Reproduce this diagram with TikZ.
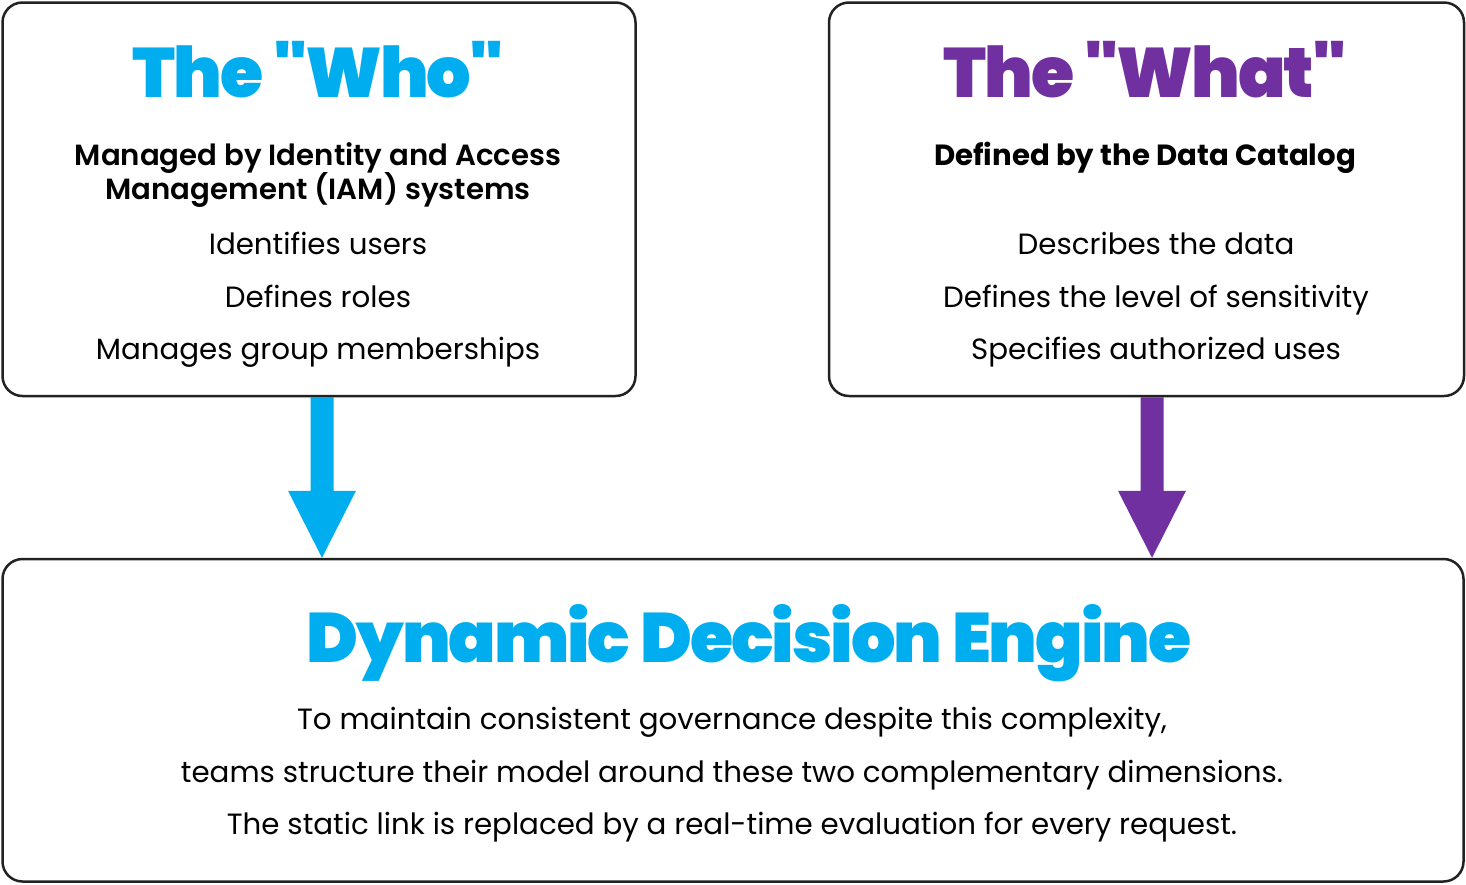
\documentclass[tikz,border=0pt]{standalone}
\usepackage{fontspec}
\setmainfont{Poppins}
\IfFontExistsTF{Poppins Black}{\newfontfamily\ttlfont{Poppins Black}[LetterSpace=-3]}{\newfontfamily\ttlfont{Poppins}[UprightFont=*-Bold,LetterSpace=-3]}
\IfFontExistsTF{Poppins SemiBold}{\newfontfamily\semifont{Poppins SemiBold}}{\newfontfamily\semifont{Poppins}[UprightFont=*-Bold]}
\usetikzlibrary{calc,backgrounds}
\definecolor{cyanc}{HTML}{00AEEF}
\definecolor{purplec}{HTML}{7030A0}
\definecolor{linec}{HTML}{222222}
\tikzset{
  panel/.style={draw=linec, line width=2.5pt, rounded corners=20pt, inner sep=0pt},
  titletext/.style={anchor=base, font=\ttlfont\fontsize{70}{76}\selectfont},
  subtext/.style={anchor=base, font=\semifont\fontsize{29.2}{34}\selectfont, text=black},
  subboldtext/.style={anchor=base, font=\bfseries\fontsize{29.2}{34}\selectfont, text=black},
  bodytext/.style={anchor=base, font=\fontsize{29.3}{34}\selectfont, text=black},
}
\newcommand{\bigdownarrow}[3]{%
  \fill[#1] let \p1=(#2), \p2=(#3) in
    (\x1-11.5pt,\y1) -- (\x1+11.5pt,\y1) -- (\x1+11.5pt,\y2+67pt) -- (\x1+34pt,\y2+67pt)
    -- (\x1,\y2) -- (\x1-34pt,\y2+67pt) -- (\x1-11.5pt,\y2+67pt) -- cycle;}
\begin{document}
\begin{tikzpicture}[x=1pt,y=-1pt]
\useasboundingbox (0,0) rectangle (1466,884);
% panels
\node[panel, minimum width=633pt, minimum height=393.5pt] (who) at (319,199.25) {};
\node[panel, minimum width=635pt, minimum height=393.5pt] (what) at (1146.5,199.25) {};
\node[panel, minimum width=1461pt, minimum height=322.5pt] (engine) at (733,720.25) {};
% left texts
\node[titletext, text=cyanc] (whoT) at (318,97) {The "Who"};
\node[subtext] (whoS1) at (318,165) {Managed by Identity and Access};
\node[subtext] (whoS2) at (318,199) {Management (IAM) systems};
\node[bodytext] (whoB1) at (318,254) {Identifies users};
\node[bodytext] (whoB2) at (318,307) {Defines roles};
\node[bodytext] (whoB3) at (318,359) {Manages group memberships};
% right texts
\node[titletext, text=purplec] (whatT) at (1145,97) {The "What"};
\node[subboldtext] (whatS) at (1145,165) {Defined by the Data Catalog};
\node[bodytext] (whatB1) at (1156,254) {Describes the data};
\node[bodytext] (whatB2) at (1156,307) {Defines the level of sensitivity};
\node[bodytext] (whatB3) at (1156,359) {Specifies authorized uses};
% bottom texts
\node[titletext, text=cyanc] (engT) at (749,662) {Dynamic Decision Engine};
\node[bodytext] (engB1) at (732,729) {To maintain consistent governance despite this complexity,};
\node[bodytext] (engB2) at (732,782) {teams structure their model around these two complementary dimensions.};
\node[bodytext] (engB3) at (732,834) {The static link is replaced by a real-time evaluation for every request.};
% arrows
\coordinate (whoX) at (322,0);
\coordinate (whatX) at (1152,0);
\begin{scope}[on background layer]
\bigdownarrow{cyanc}{who.south -| whoX}{engine.north -| whoX}
\bigdownarrow{purplec}{what.south -| whatX}{engine.north -| whatX}
\end{scope}
\end{tikzpicture}
\end{document}
